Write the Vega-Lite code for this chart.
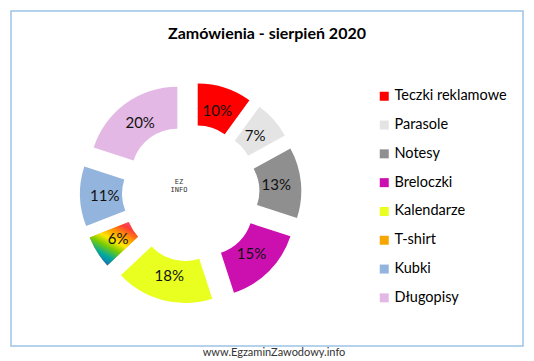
{
  "$schema": "https://vega.github.io/schema/vega-lite/v6.json",
  "width": 512,
  "height": 335,
  "autosize": {"type": "none"},
  "padding": {"left": 11, "top": 11, "right": 11, "bottom": 15},
  "background": "white",
  "view": {"stroke": "#9DC3E6", "strokeWidth": 1.5, "fill": "white"},
  "config": {
    "view": {"stroke": "#9DC3E6", "strokeWidth": 1.5},
    "font": "Lato",
    "legend": {
      "orient": "none",
      "legendX": 366,
      "legendY": 78,
      "symbolType": "square",
      "symbolSize": 81,
      "symbolStrokeWidth": 0,
      "labelFontSize": 14.5,
      "labelFont": "Lato",
      "labelColor": "#000000",
      "labelOffset": 3,
      "rowPadding": 13.8,
      "title": null
    }
  },
  "title": {
    "text": "Zamówienia  - sierpień 2020",
    "offset": -31,
    "fontSize": 16,
    "fontWeight": "bold",
    "font": "Lato",
    "color": "#000000",
    "anchor": "middle"
  },
  "datasets": {
    "orders": [
      {"item": "Teczki reklamowe", "share": 0.10, "order": 1},
      {"item": "Parasole", "share": 0.07, "order": 2},
      {"item": "Notesy", "share": 0.13, "order": 3},
      {"item": "Breloczki", "share": 0.15, "order": 4},
      {"item": "Kalendarze", "share": 0.18, "order": 5},
      {"item": "T-shirt", "share": 0.06, "order": 6},
      {"item": "Kubki", "share": 0.11, "order": 7},
      {"item": "Długopisy", "share": 0.20, "order": 8}
    ],
    "footer": [{"t": "www.EgzaminZawodowy.info"}],
    "logo": [{"t": "EZ|INFO"}]
  },
  "layer": [
    {
      "data": {"name": "orders"},
      "transform": [{"stack": "share", "groupby": [], "sort": [{"field": "order"}], "as": ["s0", "s1"]}],
      "mark": {
        "type": "arc",
        "innerRadius": 46,
        "outerRadius": 88,
        "x": {"expr": "179.7 + 22.7*sin(PI*(datum.s0+datum.s1))"},
        "y": {"expr": "182 - 22.7*cos(PI*(datum.s0+datum.s1))"}
      },
      "encoding": {
        "theta": {"field": "s0", "type": "quantitative", "scale": {"domain": [0, 1]}},
        "theta2": {"field": "s1"},
        "color": {
          "field": "item",
          "type": "nominal",
          "scale": {
            "domain": ["Teczki reklamowe", "Parasole", "Notesy", "Breloczki", "Kalendarze", "T-shirt", "Kubki", "Długopisy"],
            "range": ["#FF0000", "#E4E4E4", "#8F8F8F", "#CC0FAF", "#E8FF20", "#F7A600", "#93B4DC", "#E4B8E4"]
          }
        }
      }
    },
    {
      "data": {"name": "orders"},
      "transform": [
        {"stack": "share", "groupby": [], "sort": [{"field": "order"}], "as": ["s0", "s1"]},
        {"filter": "datum.item === 'T-shirt'"}
      ],
      "mark": {
        "type": "arc",
        "innerRadius": 46,
        "outerRadius": 88,
        "x": {"expr": "179.7 + 22.7*sin(PI*(datum.s0+datum.s1))"},
        "y": {"expr": "182 - 22.7*cos(PI*(datum.s0+datum.s1))"},
        "fill": {
          "gradient": "linear", "x1": 0.85, "y1": 0, "x2": 0.25, "y2": 1,
          "stops": [
            {"offset": 0, "color": "#F0508C"},
            {"offset": 0.12, "color": "#FF3838"},
            {"offset": 0.3, "color": "#FF9900"},
            {"offset": 0.47, "color": "#FFE800"},
            {"offset": 0.62, "color": "#7ACC00"},
            {"offset": 0.8, "color": "#00A8A0"},
            {"offset": 1, "color": "#1E5FC8"}
          ]
        }
      },
      "encoding": {
        "theta": {"field": "s0", "type": "quantitative"},
        "theta2": {"field": "s1"}
      }
    },
    {
      "data": {"name": "orders"},
      "transform": [{"stack": "share", "groupby": [], "sort": [{"field": "order"}], "as": ["s0", "s1"]}],
      "mark": {
        "type": "text",
        "font": "Lato",
        "fontSize": 15,
        "color": "#111111",
        "align": "center",
        "baseline": "middle",
        "x": {"expr": "179.7 + 86*sin(PI*(datum.s0+datum.s1))"},
        "y": {"expr": "182 - 86*cos(PI*(datum.s0+datum.s1))"}
      },
      "encoding": {
        "text": {"field": "share", "type": "quantitative", "format": ".0%"}
      }
    },
    {
      "data": {"name": "footer"},
      "mark": {
        "type": "text",
        "font": "Lato",
        "fontSize": 11,
        "color": "#333333",
        "align": "center",
        "baseline": "middle",
        "x": {"expr": "width/2 + 7"},
        "y": {"expr": "height + 7"}
      },
      "encoding": {"text": {"field": "t"}}
    },
    {
      "data": {"name": "logo"},
      "mark": {
        "type": "text",
        "font": "DejaVu Sans Mono",
        "fontSize": 7,
        "lineBreak": "|",
        "lineHeight": 8,
        "color": "#333333",
        "align": "center",
        "baseline": "middle",
        "x": {"expr": "168"},
        "y": {"expr": "171"}
      },
      "encoding": {"text": {"field": "t"}}
    }
  ]
}
